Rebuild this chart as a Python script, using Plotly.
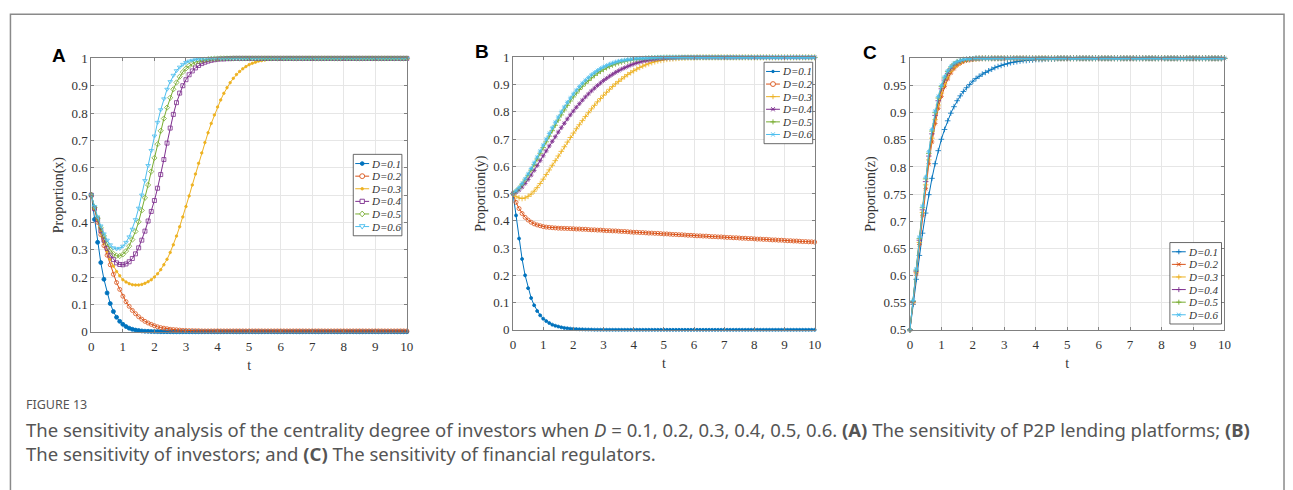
import plotly.graph_objects as go

# ---------------- data ----------------
T = [i / 10 for i in range(101)]  # t = 0, 0.1, ..., 10
LABELS = ["D=0.1", "D=0.2", "D=0.3", "D=0.4", "D=0.5", "D=0.6"]
X_TICKS = [0, 1, 2, 3, 4, 5, 6, 7, 8, 9, 10]

# Panel A : Proportion(x)
A_D01 = [0.5, 0.411, 0.327, 0.253, 0.192, 0.142, 0.103, 0.074, 0.053, 0.038,
         0.027, 0.019, 0.013, 0.009, 0.006, 0.0045, 0.003, 0.002, 0.0015, 0.001,
         0.0007, 0.0005, 0.0003, 0.0002, 0.0001, 0, 0, 0, 0, 0,
         0, 0, 0, 0, 0, 0, 0, 0, 0, 0,
         0, 0, 0, 0, 0, 0, 0, 0, 0, 0,
         0, 0, 0, 0, 0, 0, 0, 0, 0, 0,
         0, 0, 0, 0, 0, 0, 0, 0, 0, 0,
         0, 0, 0, 0, 0, 0, 0, 0, 0, 0,
         0, 0, 0, 0, 0, 0, 0, 0, 0, 0,
         0, 0, 0, 0, 0, 0, 0, 0, 0, 0,
         0]
A_D02 = [0.5, 0.45, 0.4, 0.355, 0.315, 0.28, 0.245, 0.21, 0.18, 0.155,
         0.13, 0.11, 0.093, 0.078, 0.066, 0.055, 0.046, 0.038, 0.032, 0.027,
         0.022, 0.018, 0.015, 0.013, 0.011, 0.009, 0.008, 0.007, 0.006, 0.005,
         0.0045, 0.004, 0.004, 0.0035, 0.0035, 0.003, 0.003, 0.003, 0.003, 0.003,
         0.003, 0.003, 0.003, 0.003, 0.003, 0.003, 0.003, 0.003, 0.003, 0.003,
         0.003, 0.003, 0.003, 0.003, 0.003, 0.003, 0.003, 0.003, 0.003, 0.003,
         0.003, 0.003, 0.003, 0.003, 0.003, 0.003, 0.003, 0.003, 0.003, 0.003,
         0.003, 0.003, 0.003, 0.003, 0.003, 0.003, 0.003, 0.003, 0.003, 0.003,
         0.003, 0.003, 0.003, 0.003, 0.003, 0.003, 0.003, 0.003, 0.003, 0.003,
         0.003, 0.003, 0.003, 0.003, 0.003, 0.003, 0.003, 0.003, 0.003, 0.003,
         0.003]
A_D03 = [0.5, 0.45, 0.405, 0.365, 0.33, 0.295, 0.265, 0.24, 0.22, 0.205,
         0.19, 0.182, 0.176, 0.172, 0.171, 0.171, 0.173, 0.177, 0.183, 0.19,
         0.2, 0.212, 0.227, 0.245, 0.265, 0.29, 0.318, 0.35, 0.384, 0.42,
         0.458, 0.497, 0.537, 0.577, 0.616, 0.654, 0.692, 0.728, 0.762, 0.793,
         0.822, 0.848, 0.872, 0.893, 0.911, 0.927, 0.941, 0.952, 0.962, 0.97,
         0.977, 0.982, 0.986, 0.99, 0.992, 0.994, 0.996, 0.997, 0.998, 0.998,
         0.999, 0.999, 0.999, 1, 1, 1, 1, 1, 1, 1,
         1, 1, 1, 1, 1, 1, 1, 1, 1, 1,
         1, 1, 1, 1, 1, 1, 1, 1, 1, 1,
         1, 1, 1, 1, 1, 1, 1, 1, 1, 1,
         1]
A_D04 = [0.5, 0.45, 0.41, 0.37, 0.335, 0.305, 0.28, 0.264, 0.252, 0.246,
         0.245, 0.248, 0.256, 0.268, 0.285, 0.307, 0.335, 0.368, 0.405, 0.44,
         0.48, 0.525, 0.575, 0.63, 0.69, 0.745, 0.795, 0.838, 0.873, 0.9,
         0.922, 0.94, 0.954, 0.965, 0.974, 0.981, 0.986, 0.99, 0.993, 0.995,
         0.997, 0.998, 0.998, 0.999, 0.999, 1, 1, 1, 1, 1,
         1, 1, 1, 1, 1, 1, 1, 1, 1, 1,
         1, 1, 1, 1, 1, 1, 1, 1, 1, 1,
         1, 1, 1, 1, 1, 1, 1, 1, 1, 1,
         1, 1, 1, 1, 1, 1, 1, 1, 1, 1,
         1, 1, 1, 1, 1, 1, 1, 1, 1, 1,
         1]
A_D05 = [0.5, 0.455, 0.415, 0.38, 0.35, 0.322, 0.3, 0.285, 0.278, 0.277,
         0.283, 0.295, 0.313, 0.337, 0.367, 0.402, 0.444, 0.49, 0.537, 0.586,
         0.636, 0.686, 0.735, 0.78, 0.82, 0.856, 0.887, 0.912, 0.933, 0.95,
         0.963, 0.973, 0.98, 0.986, 0.99, 0.993, 0.995, 0.997, 0.998, 0.999,
         0.999, 1, 1, 1, 1, 1, 1, 1, 1, 1,
         1, 1, 1, 1, 1, 1, 1, 1, 1, 1,
         1, 1, 1, 1, 1, 1, 1, 1, 1, 1,
         1, 1, 1, 1, 1, 1, 1, 1, 1, 1,
         1, 1, 1, 1, 1, 1, 1, 1, 1, 1,
         1, 1, 1, 1, 1, 1, 1, 1, 1, 1,
         1]
A_D06 = [0.5, 0.458, 0.42, 0.387, 0.358, 0.335, 0.318, 0.307, 0.303, 0.305,
         0.313, 0.327, 0.347, 0.375, 0.41, 0.452, 0.5, 0.553, 0.608, 0.663,
         0.716, 0.766, 0.812, 0.852, 0.887, 0.915, 0.938, 0.955, 0.968, 0.978,
         0.985, 0.99, 0.993, 0.995, 0.997, 0.998, 0.999, 0.999, 1, 1,
         1, 1, 1, 1, 1, 1, 1, 1, 1, 1,
         1, 1, 1, 1, 1, 1, 1, 1, 1, 1,
         1, 1, 1, 1, 1, 1, 1, 1, 1, 1,
         1, 1, 1, 1, 1, 1, 1, 1, 1, 1,
         1, 1, 1, 1, 1, 1, 1, 1, 1, 1,
         1, 1, 1, 1, 1, 1, 1, 1, 1, 1,
         1]

# Panel B : Proportion(y)
B_D01 = [0.5, 0.42, 0.335, 0.26, 0.2, 0.153, 0.117, 0.09, 0.069, 0.053,
         0.041, 0.032, 0.025, 0.019, 0.015, 0.012, 0.009, 0.007, 0.0055, 0.0043,
         0.0034, 0.0026, 0.002, 0.0016, 0.0012, 0.001, 0.0008, 0.0006, 0.0005, 0.0004,
         0.0003, 0.0002, 0.0002, 0.0001, 0.0001, 0, 0, 0, 0, 0,
         0, 0, 0, 0, 0, 0, 0, 0, 0, 0,
         0, 0, 0, 0, 0, 0, 0, 0, 0, 0,
         0, 0, 0, 0, 0, 0, 0, 0, 0, 0,
         0, 0, 0, 0, 0, 0, 0, 0, 0, 0,
         0, 0, 0, 0, 0, 0, 0, 0, 0, 0,
         0, 0, 0, 0, 0, 0, 0, 0, 0, 0,
         0]
B_D02 = [0.5, 0.468, 0.445, 0.427, 0.413, 0.403, 0.395, 0.389, 0.385, 0.382,
         0.379, 0.377, 0.376, 0.375, 0.374, 0.373, 0.3727, 0.3723, 0.372, 0.3715,
         0.371, 0.370, 0.370, 0.369, 0.369, 0.368, 0.367, 0.367, 0.366, 0.366,
         0.365, 0.364, 0.364, 0.363, 0.363, 0.362, 0.361, 0.361, 0.360, 0.359,
         0.358, 0.358, 0.357, 0.357, 0.356, 0.355, 0.355, 0.354, 0.354, 0.353,
         0.352, 0.352, 0.351, 0.350, 0.350, 0.349, 0.349, 0.348, 0.347, 0.347,
         0.346, 0.345, 0.345, 0.344, 0.344, 0.343, 0.342, 0.342, 0.341, 0.341,
         0.340, 0.339, 0.339, 0.338, 0.338, 0.337, 0.336, 0.336, 0.335, 0.335,
         0.334, 0.333, 0.333, 0.332, 0.332, 0.331, 0.330, 0.330, 0.329, 0.329,
         0.328, 0.327, 0.327, 0.326, 0.326, 0.325, 0.324, 0.324, 0.323, 0.323,
         0.322]
B_D03 = [0.5, 0.49, 0.484, 0.482, 0.484, 0.49, 0.498, 0.509, 0.522, 0.537,
         0.553, 0.57, 0.587, 0.604, 0.621, 0.638, 0.655, 0.672, 0.689, 0.706,
         0.722, 0.738, 0.753, 0.768, 0.783, 0.797, 0.811, 0.824, 0.837, 0.849,
         0.861, 0.872, 0.883, 0.893, 0.903, 0.912, 0.921, 0.929, 0.937, 0.944,
         0.951, 0.957, 0.963, 0.968, 0.973, 0.977, 0.981, 0.984, 0.987, 0.989,
         0.991, 0.993, 0.994, 0.995, 0.996, 0.997, 0.998, 0.998, 0.999, 0.999,
         0.999, 1, 1, 1, 1, 1, 1, 1, 1, 1,
         1, 1, 1, 1, 1, 1, 1, 1, 1, 1,
         1, 1, 1, 1, 1, 1, 1, 1, 1, 1,
         1, 1, 1, 1, 1, 1, 1, 1, 1, 1,
         1]
B_D04 = [0.5, 0.505, 0.513, 0.524, 0.537, 0.552, 0.568, 0.585, 0.603, 0.621,
         0.639, 0.657, 0.675, 0.692, 0.709, 0.726, 0.742, 0.758, 0.774, 0.789,
         0.803, 0.817, 0.83, 0.843, 0.855, 0.866, 0.877, 0.887, 0.897, 0.906,
         0.915, 0.923, 0.931, 0.938, 0.945, 0.951, 0.957, 0.962, 0.967, 0.972,
         0.976, 0.98, 0.983, 0.986, 0.988, 0.99, 0.992, 0.993, 0.995, 0.996,
         0.997, 0.997, 0.998, 0.998, 0.999, 0.999, 1, 1, 1, 1,
         1, 1, 1, 1, 1, 1, 1, 1, 1, 1,
         1, 1, 1, 1, 1, 1, 1, 1, 1, 1,
         1, 1, 1, 1, 1, 1, 1, 1, 1, 1,
         1, 1, 1, 1, 1, 1, 1, 1, 1, 1,
         1]
B_D05 = [0.5, 0.509, 0.52, 0.534, 0.55, 0.567, 0.586, 0.606, 0.627, 0.648,
         0.669, 0.69, 0.711, 0.731, 0.751, 0.77, 0.789, 0.807, 0.824, 0.84,
         0.855, 0.869, 0.882, 0.894, 0.905, 0.915, 0.925, 0.934, 0.942, 0.949,
         0.956, 0.962, 0.967, 0.972, 0.976, 0.98, 0.983, 0.986, 0.988, 0.99,
         0.992, 0.993, 0.994, 0.995, 0.996, 0.997, 0.998, 0.998, 0.999, 0.999,
         1, 1, 1, 1, 1, 1, 1, 1, 1, 1,
         1, 1, 1, 1, 1, 1, 1, 1, 1, 1,
         1, 1, 1, 1, 1, 1, 1, 1, 1, 1,
         1, 1, 1, 1, 1, 1, 1, 1, 1, 1,
         1, 1, 1, 1, 1, 1, 1, 1, 1, 1,
         1]
B_D06 = [0.5, 0.51, 0.522, 0.537, 0.554, 0.572, 0.592, 0.613, 0.634, 0.656,
         0.678, 0.7, 0.721, 0.742, 0.762, 0.781, 0.8, 0.818, 0.835, 0.851,
         0.866, 0.88, 0.893, 0.905, 0.916, 0.926, 0.936, 0.944, 0.952, 0.959,
         0.965, 0.97, 0.975, 0.979, 0.983, 0.986, 0.988, 0.99, 0.992, 0.993,
         0.995, 0.996, 0.997, 0.997, 0.998, 0.998, 0.999, 0.999, 1, 1,
         1, 1, 1, 1, 1, 1, 1, 1, 1, 1,
         1, 1, 1, 1, 1, 1, 1, 1, 1, 1,
         1, 1, 1, 1, 1, 1, 1, 1, 1, 1,
         1, 1, 1, 1, 1, 1, 1, 1, 1, 1,
         1, 1, 1, 1, 1, 1, 1, 1, 1, 1,
         1]

# Panel C : Proportion(z)
C_D01 = [0.5, 0.547, 0.593, 0.637, 0.678, 0.715, 0.749, 0.779, 0.806, 0.83,
         0.851, 0.869, 0.885, 0.899, 0.911, 0.922, 0.931, 0.939, 0.946, 0.952,
         0.958, 0.963, 0.967, 0.971, 0.974, 0.977, 0.98, 0.983, 0.985, 0.987,
         0.989, 0.99, 0.992, 0.993, 0.994, 0.995, 0.996, 0.996, 0.997, 0.997,
         0.998, 0.998, 0.998, 0.999, 0.999, 0.999, 0.999, 1, 1, 1,
         1, 1, 1, 1, 1, 1, 1, 1, 1, 1,
         1, 1, 1, 1, 1, 1, 1, 1, 1, 1,
         1, 1, 1, 1, 1, 1, 1, 1, 1, 1,
         1, 1, 1, 1, 1, 1, 1, 1, 1, 1,
         1, 1, 1, 1, 1, 1, 1, 1, 1, 1,
         1]
C_D02 = [0.5, 0.55, 0.603, 0.657, 0.71, 0.76, 0.806, 0.846, 0.88, 0.908,
         0.93, 0.948, 0.962, 0.973, 0.981, 0.987, 0.991, 0.994, 0.996, 0.997,
         0.998, 0.999, 0.999, 1, 1, 1, 1, 1, 1, 1,
         1, 1, 1, 1, 1, 1, 1, 1, 1, 1,
         1, 1, 1, 1, 1, 1, 1, 1, 1, 1,
         1, 1, 1, 1, 1, 1, 1, 1, 1, 1,
         1, 1, 1, 1, 1, 1, 1, 1, 1, 1,
         1, 1, 1, 1, 1, 1, 1, 1, 1, 1,
         1, 1, 1, 1, 1, 1, 1, 1, 1, 1,
         1, 1, 1, 1, 1, 1, 1, 1, 1, 1,
         1]
C_D03 = [0.5, 0.551, 0.606, 0.661, 0.716, 0.767, 0.813, 0.853, 0.887, 0.914,
         0.936, 0.953, 0.966, 0.976, 0.983, 0.988, 0.992, 0.995, 0.997, 0.998,
         0.999, 0.999, 1, 1, 1, 1, 1, 1, 1, 1,
         1, 1, 1, 1, 1, 1, 1, 1, 1, 1,
         1, 1, 1, 1, 1, 1, 1, 1, 1, 1,
         1, 1, 1, 1, 1, 1, 1, 1, 1, 1,
         1, 1, 1, 1, 1, 1, 1, 1, 1, 1,
         1, 1, 1, 1, 1, 1, 1, 1, 1, 1,
         1, 1, 1, 1, 1, 1, 1, 1, 1, 1,
         1, 1, 1, 1, 1, 1, 1, 1, 1, 1,
         1]
C_D04 = [0.5, 0.552, 0.608, 0.665, 0.721, 0.773, 0.82, 0.861, 0.895, 0.922,
         0.944, 0.96, 0.972, 0.981, 0.988, 0.992, 0.995, 0.997, 0.998, 0.999,
         0.999, 1, 1, 1, 1, 1, 1, 1, 1, 1,
         1, 1, 1, 1, 1, 1, 1, 1, 1, 1,
         1, 1, 1, 1, 1, 1, 1, 1, 1, 1,
         1, 1, 1, 1, 1, 1, 1, 1, 1, 1,
         1, 1, 1, 1, 1, 1, 1, 1, 1, 1,
         1, 1, 1, 1, 1, 1, 1, 1, 1, 1,
         1, 1, 1, 1, 1, 1, 1, 1, 1, 1,
         1, 1, 1, 1, 1, 1, 1, 1, 1, 1,
         1]
C_D05 = [0.5, 0.553, 0.61, 0.668, 0.725, 0.778, 0.825, 0.866, 0.9, 0.927,
         0.948, 0.964, 0.976, 0.984, 0.99, 0.994, 0.996, 0.998, 0.998, 0.999,
         0.999, 1, 1, 1, 1, 1, 1, 1, 1, 1,
         1, 1, 1, 1, 1, 1, 1, 1, 1, 1,
         1, 1, 1, 1, 1, 1, 1, 1, 1, 1,
         1, 1, 1, 1, 1, 1, 1, 1, 1, 1,
         1, 1, 1, 1, 1, 1, 1, 1, 1, 1,
         1, 1, 1, 1, 1, 1, 1, 1, 1, 1,
         1, 1, 1, 1, 1, 1, 1, 1, 1, 1,
         1, 1, 1, 1, 1, 1, 1, 1, 1, 1,
         1]
C_D06 = [0.5, 0.554, 0.612, 0.671, 0.728, 0.781, 0.828, 0.869, 0.903, 0.93,
         0.95, 0.966, 0.977, 0.985, 0.991, 0.994, 0.996, 0.998, 0.999, 0.999,
         1, 1, 1, 1, 1, 1, 1, 1, 1, 1,
         1, 1, 1, 1, 1, 1, 1, 1, 1, 1,
         1, 1, 1, 1, 1, 1, 1, 1, 1, 1,
         1, 1, 1, 1, 1, 1, 1, 1, 1, 1,
         1, 1, 1, 1, 1, 1, 1, 1, 1, 1,
         1, 1, 1, 1, 1, 1, 1, 1, 1, 1,
         1, 1, 1, 1, 1, 1, 1, 1, 1, 1,
         1, 1, 1, 1, 1, 1, 1, 1, 1, 1,
         1]

PANEL_A = [A_D01, A_D02, A_D03, A_D04, A_D05, A_D06]
PANEL_B = [B_D01, B_D02, B_D03, B_D04, B_D05, B_D06]
PANEL_C = [C_D01, C_D02, C_D03, C_D04, C_D05, C_D06]
for s in PANEL_A + PANEL_B + PANEL_C:
    assert len(s) == len(T), len(s)

# ---------------- style ----------------
W, H = 1293, 490
COLORS = ["#0072BD", "#D95319", "#EDB120", "#7E2F8E", "#77AC30", "#4DBEEE"]
SYM_A = ["circle", "circle-open", "circle", "square-open", "diamond-open", "triangle-down-open"]
SIZE_A = [4, 4, 2.5, 4, 4, 4]
KEY_A = ["dot", "circle", "smalldot", "square", "diamond", "tridown"]
SYM_B = ["circle", "circle-open", "cross-thin-open", "asterisk-open", "cross-thin-open", "asterisk-open"]
SIZE_B = [3, 4, 4, 4, 4, 4]
KEY_B = ["smalldot", "circle", "plus", "asterisk", "plus", "asterisk"]
SYM_C = ["cross-thin-open", "asterisk-open", "cross-thin-open", "cross-thin-open", "cross-thin-open", "asterisk-open"]
SIZE_C = [4, 4, 4, 4, 4, 4]
KEY_C = ["plus", "asterisk", "plus", "plus", "plus", "asterisk"]

SERIF = "Liberation Serif"
AX_COL = "#808080"
TXT_COL = "#333333"


def px_x(p):
    return p / W


def px_y(p):
    return 1 - p / H


panels = [
    dict(data=PANEL_A, sym=SYM_A, size=SIZE_A, key=KEY_A, xd=[px_x(89), px_x(407)], yd=[px_y(335), px_y(53)],
         yr=[0, 1], dt=0.1, ylab="Proportion(x)", letter="A", lx=47, ly=50,
         box=(353, 152, 402, 236)),
    dict(data=PANEL_B, sym=SYM_B, size=SIZE_B, key=KEY_B, xd=[px_x(514), px_x(818)], yd=[px_y(333), px_y(52)],
         yr=[0, 1], dt=0.1, ylab="Proportion(y)", letter="B", lx=474, ly=46,
         box=(767, 57, 816, 141)),
    dict(data=PANEL_C, sym=SYM_C, size=SIZE_C, key=KEY_C, xd=[px_x(914), px_x(1231)], yd=[px_y(333), px_y(53)],
         yr=[0.5, 1], dt=0.05, ylab="Proportion(z)", letter="C", lx=865, ly=47,
         box=(1176, 243, 1228, 327)),
]

fig = go.Figure()
layout = {}
annotations = []
shapes = []


def seg(x0, y0, x1, y1, color, width=1.0):
    shapes.append(dict(type="line", xref="paper", yref="paper",
                       x0=px_x(x0), y0=px_y(y0), x1=px_x(x1), y1=px_y(y1),
                       line=dict(color=color, width=width)))


def key_marker(kind, cx, cy, color):
    r = 2.6
    if kind in ("dot", "smalldot", "circle"):
        rr = {"dot": 1.9, "smalldot": 1.3, "circle": 2.5}[kind]
        shapes.append(dict(type="circle", xref="paper", yref="paper",
                           x0=px_x(cx - rr), x1=px_x(cx + rr), y0=px_y(cy + rr), y1=px_y(cy - rr),
                           fillcolor=color if kind != "circle" else "white",
                           line=dict(color=color, width=0.9)))
    elif kind == "square":
        shapes.append(dict(type="rect", xref="paper", yref="paper",
                           x0=px_x(cx - 2.2), x1=px_x(cx + 2.2), y0=px_y(cy + 2.2), y1=px_y(cy - 2.2),
                           fillcolor="white", line=dict(color=color, width=0.9)))
    elif kind in ("diamond", "tridown"):
        if kind == "diamond":
            pts = [(cx, cy - 3), (cx + 2.6, cy), (cx, cy + 3), (cx - 2.6, cy)]
        else:
            pts = [(cx - 2.8, cy - 2), (cx + 2.8, cy - 2), (cx, cy + 2.6)]
        path = "M " + " L ".join("%f,%f" % (px_x(a), px_y(b)) for a, b in pts) + " Z"
        shapes.append(dict(type="path", xref="paper", yref="paper", path=path,
                           fillcolor="white", line=dict(color=color, width=0.9)))
    elif kind == "plus":
        seg(cx - r, cy, cx + r, cy, color, 0.9)
        seg(cx, cy - r, cx, cy + r, color, 0.9)
    elif kind == "asterisk":
        seg(cx - r, cy, cx + r, cy, color, 0.9)
        seg(cx - 1.8, cy - 2.2, cx + 1.8, cy + 2.2, color, 0.9)
        seg(cx - 1.8, cy + 2.2, cx + 1.8, cy - 2.2, color, 0.9)


for i, p in enumerate(panels):
    n = "" if i == 0 else str(i + 1)
    for k, ys in enumerate(p["data"]):
        fig.add_trace(go.Scatter(
            x=T, y=ys, mode="lines+markers", name=LABELS[k], showlegend=False,
            xaxis="x" + n, yaxis="y" + n, cliponaxis=False,
            line=dict(color=COLORS[k], width=1),
            marker=dict(symbol=p["sym"][k], size=p["size"][k], color=COLORS[k],
                        line=dict(color=COLORS[k], width=0.8)),
        ))
    common = dict(showline=True, linecolor=AX_COL, linewidth=1, mirror="ticks",
                  ticks="inside", ticklen=3, tickcolor=AX_COL,
                  showgrid=True, gridcolor="#e6e6e6", gridwidth=1, zeroline=False,
                  tickfont=dict(family=SERIF, size=13, color=TXT_COL))
    layout["xaxis" + n] = dict(domain=p["xd"], anchor="y" + n, range=[0, 10],
                               tickvals=X_TICKS, ticklabelstandoff=3,
                               title=dict(text="t", standoff=6,
                                          font=dict(family=SERIF, size=14, color=TXT_COL)), **common)
    layout["yaxis" + n] = dict(domain=p["yd"], anchor="x" + n, range=p["yr"], dtick=p["dt"],
                               title=dict(text=p["ylab"], standoff=4,
                                          font=dict(family=SERIF, size=14, color=TXT_COL)), **common)
    annotations.append(dict(text="<b>%s</b>" % p["letter"], x=px_x(p["lx"]), y=px_y(p["ly"]),
                            xref="paper", yref="paper", xanchor="left", yanchor="middle",
                            showarrow=False, font=dict(family="Liberation Sans", size=19, color="#000")))
    # legend box (drawn as a MATLAB-style compact legend)
    bx0, by0, bx1, by1 = p["box"]
    shapes.append(dict(type="rect", xref="paper", yref="paper",
                       x0=px_x(bx0), x1=px_x(bx1), y0=px_y(by1), y1=px_y(by0),
                       fillcolor="white", line=dict(color="#444444", width=0.8)))
    step = (by1 - by0 - 6) / 6.0
    for k in range(6):
        cy = by0 + 3 + step * (k + 0.5)
        seg(bx0 + 2, cy, bx0 + 16, cy, COLORS[k], 1.0)
        key_marker(p["key"][k], bx0 + 9, cy, COLORS[k])
        annotations.append(dict(text="<i>%s</i>" % LABELS[k], x=px_x(bx0 + 17), y=px_y(cy),
                                xref="paper", yref="paper", xanchor="left", yanchor="middle",
                                showarrow=False, borderpad=0,
                                font=dict(family=SERIF, size=11, color=TXT_COL)))

CAP_FONT = "Noto Sans"
CAP_COL = "#555555"
annotations.append(dict(text="FIGURE 13", x=px_x(21), y=px_y(410), xref="paper", yref="paper",
                        xanchor="left", yanchor="middle", showarrow=False,
                        font=dict(family=CAP_FONT, size=12.5, color=CAP_COL)))
annotations.append(dict(text="The sensitivity analysis of the centrality degree of investors when <i>D</i> = 0.1, 0.2, 0.3, 0.4, 0.5, 0.6. "
                             "<b>(A)</b> The sensitivity of P2P lending platforms; <b>(B)</b>"
                             "<br>The sensitivity of investors; and <b>(C)</b> The sensitivity of financial regulators.",
                        x=px_x(21), y=px_y(448), xref="paper", yref="paper", align="left",
                        xanchor="left", yanchor="middle", showarrow=False,
                        font=dict(family=CAP_FONT, size=18.5, color=CAP_COL)))

shapes.append(dict(type="rect", xref="paper", yref="paper", x0=px_x(7.5), x1=px_x(1291),
                   y0=-0.2, y1=px_y(7.5), line=dict(color="#8a8a8a", width=1.5)))

fig.update_layout(
    width=W, height=H, margin=dict(l=0, r=0, t=0, b=0),
    paper_bgcolor="white", plot_bgcolor="white", showlegend=False,
    annotations=annotations, shapes=shapes,
    **layout,
)

fig.write_html("out.html")
